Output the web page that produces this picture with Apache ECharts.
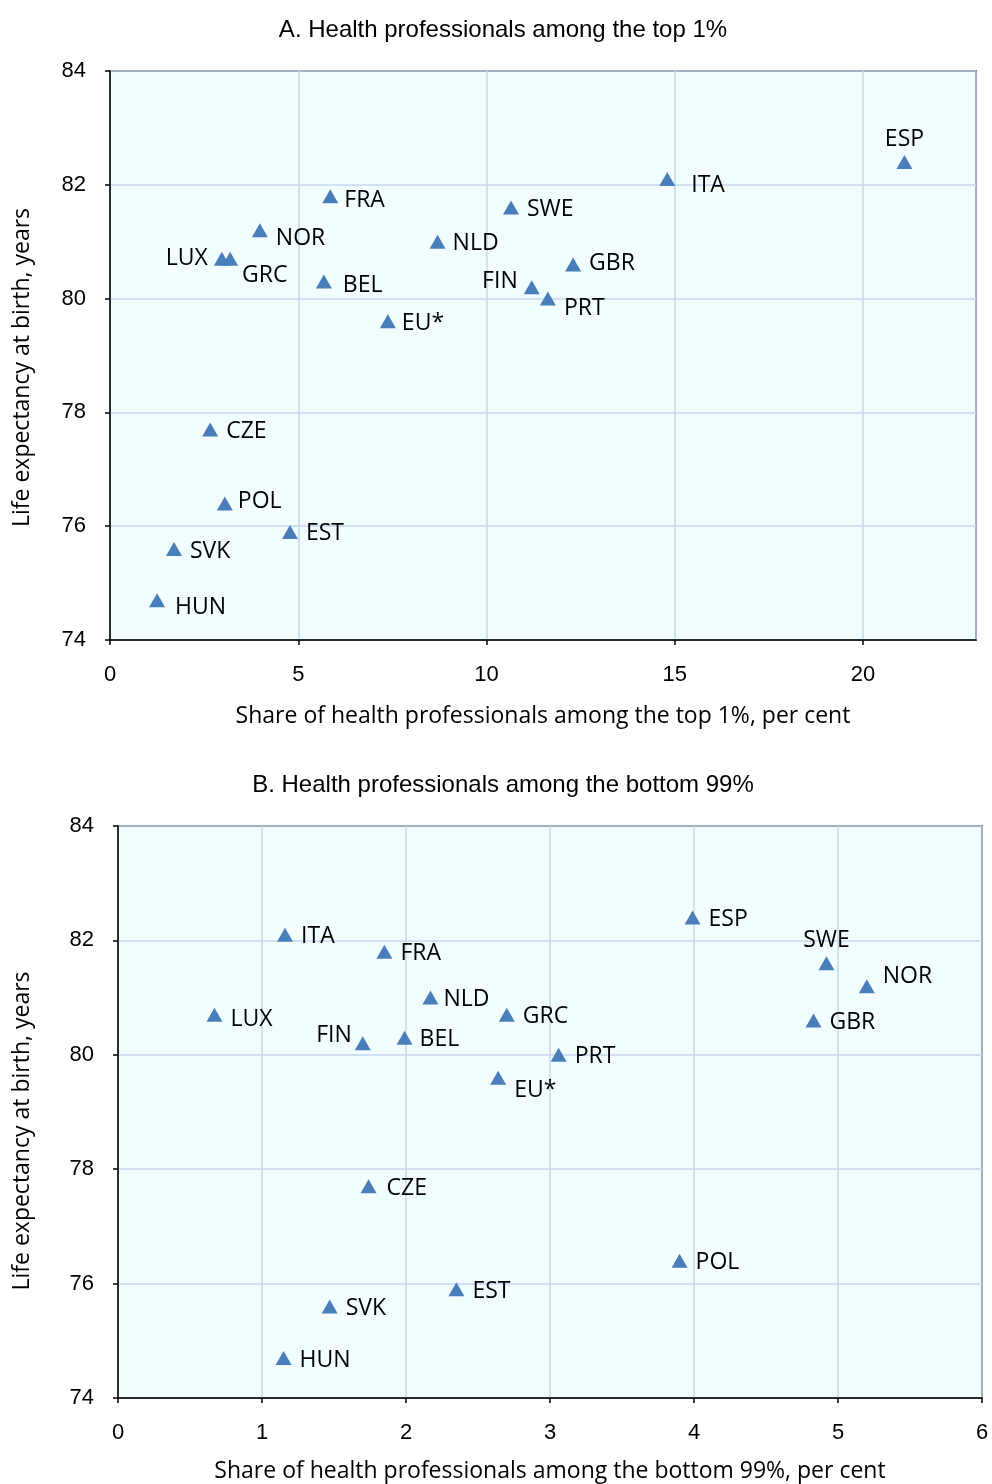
<!DOCTYPE html>
<html>
<head>
<meta charset="utf-8">
<script src="https://cdn.jsdelivr.net/npm/echarts@6/dist/echarts.min.js"></script>
<style>
  html, body { margin: 0; padding: 0; background: #fff; }
  #chart { width: 992px; height: 1484px; }
</style>
</head>
<body>
<div id="chart"></div>
<script>
  // 国家 / 数据
  const countries = ['ESP', 'ITA', 'FRA', 'SWE', 'NOR', 'NLD', 'LUX', 'GRC', 'GBR', 'BEL', 'FIN', 'PRT', 'EU*', 'CZE', 'POL', 'EST', 'SVK', 'HUN']
  const lifeExp = [82.4, 82.1, 81.8, 81.6, 81.2, 81.0, 80.7, 80.7, 80.6, 80.3, 80.2, 80.0, 79.6, 77.7, 76.4, 75.9, 75.6, 74.7]
  const top1Share = [21.1, 14.8, 5.85, 10.65, 3.98, 8.7, 2.97, 3.19, 12.3, 5.68, 11.2, 11.63, 7.38, 2.66, 3.05, 4.78, 1.7, 1.25]
  const bottom99Share = [3.99, 1.16, 1.85, 4.92, 5.2, 2.17, 0.67, 2.7, 4.83, 1.99, 1.7, 3.06, 2.64, 1.74, 3.9, 2.35, 1.47, 1.15]
  const yTicks = [74, 76, 78, 80, 82, 84]

  // 标签位置 [position, dx, dy]
  const labelPosA = {
    ESP: ['top', 0, 2], ITA: ['right', 8, 4], NOR: ['right', 0, 6], LUX: ['left', 2, -2],
    GRC: ['right', -4, 15], GBR: ['right', 0, -3], BEL: ['right', 3, 2], FIN: ['left', 2, -8],
    PRT: ['right', 0, 8], POL: ['right', -3, -4], HUN: ['right', 2, 5], EU: ['right', -2, 0],
    FRA: ['right', -2, 2], NLD: ['right', -1, 0]
  }
  const labelPosB = {
    SWE: ['top', 0, 2], NOR: ['right', 0, -12], LUX: ['right', 0, 3], FIN: ['left', 5, -10],
    EU: ['right', 0, 11], NLD: ['right', -3, 0], BEL: ['right', -1, 0], CZE: ['right', 2, 0]
  }

  const markerColor = '#4a7ebb'
  const textFont = '"Open Sans", "Noto Sans", sans-serif'
  const numFont = '"Liberation Sans", Arial, sans-serif'

  function buildPoints(xs, posMap) {
    return countries.map((c, i) => {
      let key = c.replace('*', '')
      let p = posMap[key] || ['right', 0, 0]
      return {
        name: c,
        value: [xs[i], lifeExp[i]],
        label: { position: p[0], offset: [p[1], p[2] + 2] }
      }
    })
  }

  function xAxisCfg(idx, max, interval, name, gap) {
    return {
      gridIndex: idx,
      type: 'value',
      min: 0,
      max: max,
      interval: interval,
      name: name,
      nameLocation: 'middle',
      nameGap: gap,
      nameTextStyle: { fontFamily: textFont, fontSize: 23, color: '#000' },
      axisLine: { show: true, onZero: false, lineStyle: { color: '#000', width: 1.5 } },
      axisTick: { show: true, length: 5, lineStyle: { color: '#000', width: 1.5 } },
      axisLabel: { margin: 24, fontFamily: numFont, fontSize: 22, color: '#000', showMaxLabel: max % interval === 0 },
      splitLine: { show: true, lineStyle: { color: '#c6d7ef', width: 1.5 } }
    }
  }

  function yAxisCfg(idx, gap, shift) {
    return {
      gridIndex: idx,
      type: 'value',
      min: yTicks[0],
      max: yTicks[yTicks.length - 1],
      interval: 2,
      name: 'Life expectancy at birth, years',
      nameLocation: 'middle',
      nameGap: gap,
      nameRotate: 90,
      nameTextStyle: { fontFamily: textFont, fontSize: 23, color: '#000', padding: [0, shift, 0, 0] },
      axisLine: { show: true, onZero: false, lineStyle: { color: '#000', width: 1.5 } },
      axisTick: { show: true, length: 5, lineStyle: { color: '#000', width: 1.5 } },
      axisLabel: { margin: 24, fontFamily: numFont, fontSize: 22, color: '#000' },
      splitLine: { show: true, lineStyle: { color: '#c6d7ef', width: 1.5 } }
    }
  }

  function seriesCfg(idx, data) {
    return {
      type: 'scatter',
      xAxisIndex: idx,
      yAxisIndex: idx,
      symbol: 'triangle',
      symbolSize: [16, 14],
      itemStyle: { color: markerColor, opacity: 1 },
      label: {
        show: true,
        formatter: '{b}',
        distance: 8,
        fontFamily: textFont,
        fontSize: 23,
        color: '#000'
      },
      data: data,
      animation: false
    }
  }

  let chart = echarts.init(document.getElementById('chart'))
  let option = {
    backgroundColor: '#fff',
    animation: false,
    title: [
      {
        text: 'A. Health professionals among the top 1%',
        left: 498, top: 13, textAlign: 'center',
        textStyle: { fontFamily: numFont, fontSize: 24, fontWeight: 'normal', color: '#000' }
      },
      {
        text: 'B. Health professionals among the bottom 99%',
        left: 498, top: 768, textAlign: 'center',
        textStyle: { fontFamily: numFont, fontSize: 24, fontWeight: 'normal', color: '#000' }
      }
    ],
    grid: [
      { left: 110, top: 71, width: 866, height: 569, show: true, backgroundColor: '#f2fdfe', borderColor: '#000', borderWidth: 1.5 },
      { left: 118, top: 826, width: 864, height: 573, show: true, backgroundColor: '#f2fdfe', borderColor: '#000', borderWidth: 1.5 }
    ],
    xAxis: [
      xAxisCfg(0, 23, 5, 'Share of health professionals among the top 1%, per cent', 65),
      xAxisCfg(1, 6, 1, 'Share of health professionals among the bottom 99%, per cent', 62)
    ],
    yAxis: [yAxisCfg(0, 76, 24), yAxisCfg(1, 84, 38)],
    series: [
      seriesCfg(0, buildPoints(top1Share, labelPosA)),
      seriesCfg(1, buildPoints(bottom99Share, labelPosB))
    ]
  }
  chart.setOption(option, true)
  window.onresize = chart.resize
</script>
</body>
</html>
